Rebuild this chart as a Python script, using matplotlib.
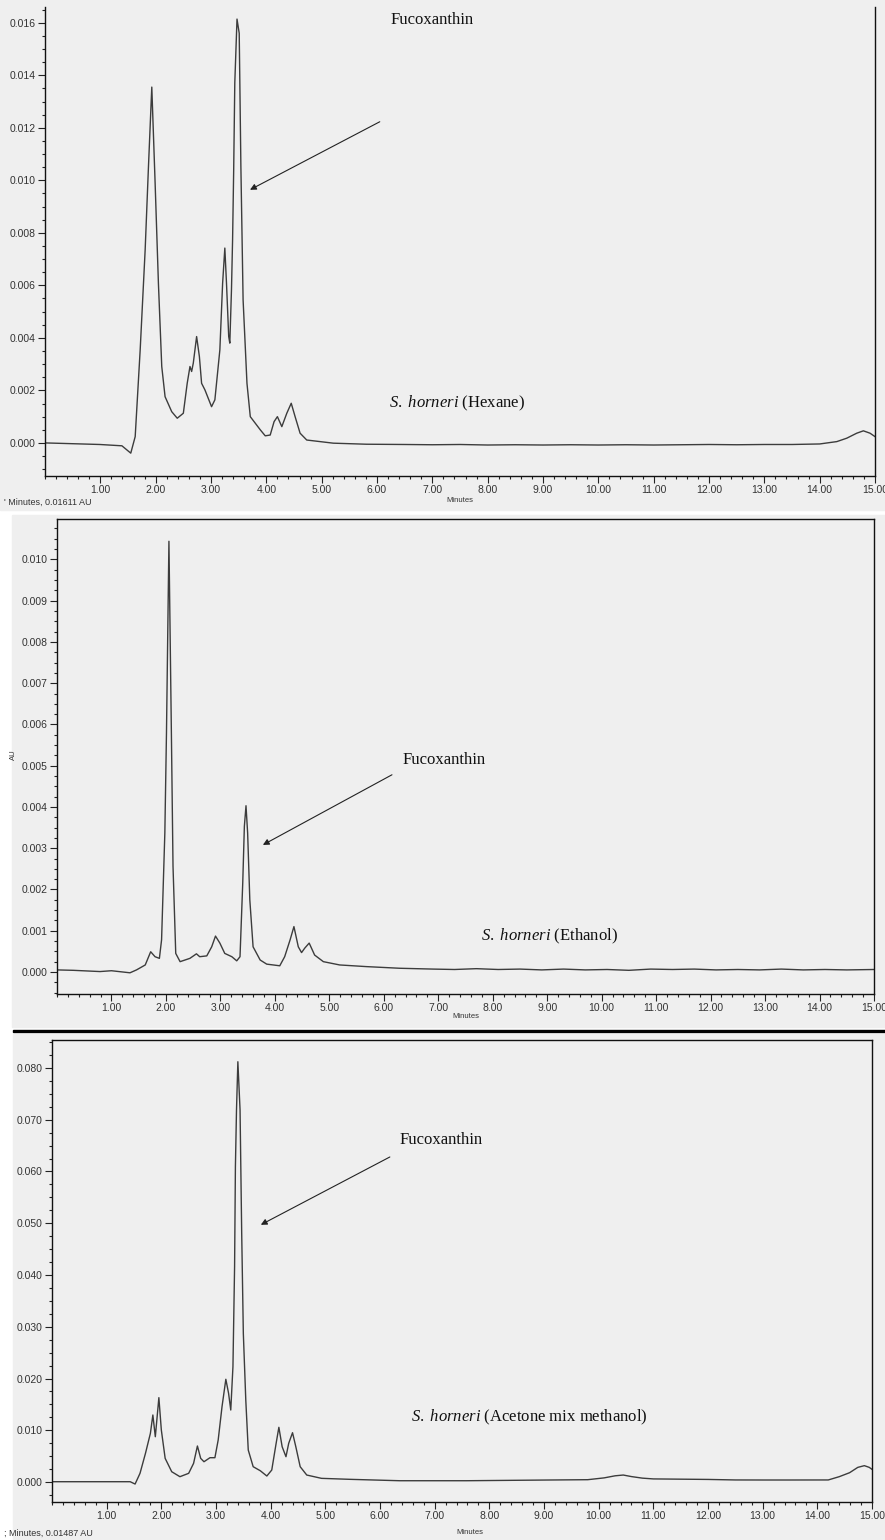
import numpy as np
import matplotlib
matplotlib.use("Agg")
import matplotlib.pyplot as plt
from matplotlib.patches import Rectangle
from matplotlib.ticker import FixedLocator, MultipleLocator, FormatStrFormatter

plt.rcParams["font.family"] = ["Liberation Sans", "DejaVu Sans"]
plt.rcParams["mathtext.fontset"] = "custom"
plt.rcParams["mathtext.rm"] = "Liberation Serif"
plt.rcParams["mathtext.it"] = "Liberation Serif:italic"

# ---- data (minutes, AU) ----
hexane_t = [0.00, 0.50, 0.99, 1.39, 1.55, 1.63, 1.72, 1.81, 1.87, 1.93, 1.99, 2.05, 2.11,
            2.17, 2.29, 2.39, 2.50, 2.57, 2.62, 2.65, 2.68, 2.74, 2.79, 2.83, 2.89, 3.01,
            3.07, 3.16, 3.21, 3.25, 3.28, 3.32, 3.34, 3.37, 3.39, 3.41, 3.43, 3.47, 3.51,
            3.54, 3.58, 3.65, 3.71, 3.80, 3.89, 3.98, 4.07, 4.14, 4.20, 4.28, 4.37, 4.45,
            4.52, 4.61, 4.73, 5.21, 5.81, 6.50, 7.00, 7.50, 8.00, 8.50, 9.00, 9.50, 10.00,
            10.50, 11.00, 11.50, 12.00, 12.50, 13.00, 13.50, 14.00, 14.31, 14.49, 14.67,
            14.79, 14.91, 15.00]
hexane_au = [0.00000, -0.00003, -0.00006, -0.00011, -0.00039, 0.00024, 0.00354, 0.00735,
             0.01053, 0.01355, 0.00990, 0.00606, 0.00291, 0.00176, 0.00119, 0.00094,
             0.00113, 0.00227, 0.00291, 0.00272, 0.00304, 0.00405, 0.00329, 0.00227,
             0.00202, 0.00138, 0.00164, 0.00354, 0.00608, 0.00742, 0.00608, 0.00405,
             0.00380, 0.00583, 0.00773, 0.01040, 0.01371, 0.01614, 0.01560, 0.01053,
             0.00545, 0.00227, 0.00100, 0.00075, 0.00050, 0.00027, 0.00030, 0.00081,
             0.00100, 0.00062, 0.00113, 0.00151, 0.00100, 0.00037, 0.00011, -0.00001,
             -0.00005, -0.00006, -0.00007, -0.00006, -0.00008, -0.00007, -0.00008,
             -0.00007, -0.00008, -0.00007, -0.00008, -0.00007, -0.00006, -0.00007,
             -0.00006, -0.00006, -0.00004, 0.00005, 0.00018, 0.00037, 0.00046, 0.00037,
             0.00024]

ethanol_t = [0.00, 0.30, 0.79, 1.00, 1.34, 1.46, 1.62, 1.72, 1.80, 1.88, 1.92, 1.98, 2.01,
             2.055, 2.10, 2.13, 2.18, 2.26, 2.44, 2.56, 2.62, 2.75, 2.84, 2.91, 2.99, 3.08,
             3.21, 3.30, 3.36, 3.41, 3.44, 3.47, 3.50, 3.54, 3.60, 3.73, 3.85, 4.09, 4.18,
             4.28, 4.35, 4.43, 4.49, 4.55, 4.63, 4.73, 4.89, 5.19, 5.68, 6.29, 6.90, 7.30,
             7.70, 8.10, 8.50, 8.90, 9.30, 9.70, 10.10, 10.50, 10.90, 11.30, 11.70, 12.10,
             12.50, 12.90, 13.30, 13.70, 14.10, 14.50, 15.00]
ethanol_au = [0.00005, 0.00004, 0.00001, 0.00003, -0.00002, 0.00005, 0.00017, 0.00049,
              0.00037, 0.00033, 0.00078, 0.00337, 0.00580, 0.01044, 0.00580, 0.00256,
              0.00045, 0.00025, 0.00033, 0.00044, 0.00037, 0.00039, 0.00061, 0.00087,
              0.00070, 0.00045, 0.00037, 0.00027, 0.00037, 0.00215, 0.00353, 0.00403,
              0.00337, 0.00175, 0.00061, 0.00029, 0.00019, 0.00015, 0.00037, 0.00078,
              0.00110, 0.00061, 0.00047, 0.00058, 0.00070, 0.00041, 0.00025, 0.00017,
              0.00013, 0.00009, 0.00007, 0.00006, 0.00008, 0.00006, 0.00007, 0.00005,
              0.00007, 0.00005, 0.00006, 0.00004, 0.00007, 0.00006, 0.00007, 0.00005,
              0.00006, 0.00005, 0.00007, 0.00005, 0.00006, 0.00005, 0.00006]

acetone_t = [0.00, 0.88, 1.43, 1.52, 1.61, 1.71, 1.80, 1.845, 1.89, 1.955, 2.00, 2.07,
             2.19, 2.34, 2.50, 2.59, 2.66, 2.72, 2.78, 2.89, 2.98, 3.04, 3.11, 3.18, 3.23,
             3.27, 3.31, 3.34, 3.355, 3.375, 3.40, 3.44, 3.47, 3.50, 3.545, 3.59, 3.68,
             3.81, 3.93, 4.02, 4.10, 4.15, 4.21, 4.28, 4.33, 4.40, 4.46, 4.54, 4.66, 4.93,
             5.45, 6.36, 7.58, 9.10, 9.80, 10.10, 10.30, 10.45, 10.60, 10.80, 11.00, 11.50,
             12.00, 12.50, 13.00, 13.50, 14.20, 14.40, 14.59, 14.74, 14.86, 14.95, 15.00]
acetone_au = [0.00006, 0.00006, 0.00006, -0.00039, 0.00168, 0.00555, 0.00941, 0.01295,
              0.00875, 0.01630, 0.01005, 0.00457, 0.00199, 0.00103, 0.00168, 0.00361,
              0.00696, 0.00457, 0.00392, 0.00470, 0.00470, 0.00812, 0.01455, 0.01985,
              0.01714, 0.01391, 0.02230, 0.04160, 0.06090, 0.07190, 0.08120, 0.07190,
              0.04810, 0.02870, 0.01580, 0.00618, 0.00296, 0.00218, 0.00116, 0.00232,
              0.00748, 0.01057, 0.00682, 0.00489, 0.00748, 0.00953, 0.00682, 0.00296,
              0.00135, 0.00071, 0.00052, 0.00025, 0.00025, 0.00039, 0.00045, 0.00080,
              0.00120, 0.00135, 0.00105, 0.00075, 0.00060, 0.00055, 0.00050, 0.00040,
              0.00039, 0.00039, 0.00040, 0.00103, 0.00180, 0.00283, 0.00316, 0.00283,
              0.00245]

x_ticks = list(range(1, 16))

W, H = 885, 1540
GRAY = "#efefef"
LINE = "#3c3c3c"

fig = plt.figure(figsize=(W / 100, H / 100), dpi=100)
fig.patch.set_facecolor("white")


def px_rect(x0, y0, x1, y1, **kw):
    r = Rectangle((x0 / W, 1 - y1 / H), (x1 - x0) / W, (y1 - y0) / H,
                  transform=fig.transFigure, zorder=-5, **kw)
    fig.patches.append(r)


def px_axes(left, top, right, bottom):
    return fig.add_axes([left / W, 1 - bottom / H, (right - left) / W, (bottom - top) / H])


def px_text(x, y, s, **kw):
    fig.text(x / W, 1 - y / H, s, **kw)


# panel backgrounds
px_rect(0, 0, 885, 510, color=GRAY)
px_rect(12, 515, 885, 1027, color=GRAY)
px_rect(13, 1030, 885, 1032, color="black")
px_rect(13, 1034, 885, 1540, color=GRAY)


def style_axis(ax, ylim, ymajor, yminor, top_spine=True):
    ax.set_facecolor(GRAY)
    ax.set_xlim(0, 15)
    ax.set_ylim(*ylim)
    ax.xaxis.set_major_locator(FixedLocator(x_ticks))
    ax.xaxis.set_major_formatter(FormatStrFormatter("%.2f"))
    ax.xaxis.set_minor_locator(MultipleLocator(0.2))
    ax.yaxis.set_major_locator(MultipleLocator(ymajor))
    ax.yaxis.set_major_formatter(FormatStrFormatter("%.3f"))
    ax.yaxis.set_minor_locator(MultipleLocator(yminor))
    ax.tick_params(which="major", direction="out", length=5, width=0.8,
                   colors="#222222", labelsize=7.5, pad=1.5, labelcolor="#333333")
    ax.tick_params(which="minor", direction="out", length=2.5, width=0.8, colors="#222222")
    for sp in ax.spines.values():
        sp.set_linewidth(1.0)
        sp.set_color("#111111")
    ax.spines["top"].set_visible(top_spine)


def add_labels(ax, txt_xy, tip_xy, tail_xy, sample_xy, solvent):
    ax.text(*txt_xy, "Fucoxanthin", family="Liberation Serif", fontsize=12,
            ha="center", va="center", color="#111111")
    ax.annotate("", xy=tip_xy, xytext=tail_xy,
                arrowprops=dict(arrowstyle="-|>", color="#222222", lw=0.8,
                                mutation_scale=9, shrinkA=0, shrinkB=0))
    ax.text(*sample_xy, r"$\mathit{S.\ horneri}$ (" + solvent + ")",
            family="Liberation Serif", fontsize=12, ha="left", va="center",
            color="#111111")


# ---- Panel 1: Hexane ----
ax1 = px_axes(45, 7, 875, 476)
ax1.plot(hexane_t, hexane_au, color=LINE, lw=1.0)
style_axis(ax1, (-0.00126, 0.0166), 0.002, 0.0005, top_spine=False)
add_labels(ax1, (6.99, 0.01611), (3.705, 0.00964), (6.05, 0.01223),
           (6.22, 0.00152), "Hexane")
px_text(460, 501, "Minutes", fontsize=5.5, ha="center", va="center", color="#333333")
px_text(4, 502, "' Minutes, 0.01611 AU", fontsize=6.5, ha="left", va="center", color="#333333")

# ---- Panel 2: Ethanol ----
ax2 = px_axes(57, 519, 874, 994)
ax2.plot(ethanol_t, ethanol_au, color=LINE, lw=1.0)
style_axis(ax2, (-0.000534, 0.01098), 0.001, 0.00025)
add_labels(ax2, (7.11, 0.00515), (3.78, 0.00308), (6.15, 0.00478),
           (7.78, 0.00087), "Ethanol")
px_text(466, 1017, "Minutes", fontsize=5.5, ha="center", va="center", color="#333333")
px_text(13, 755, "AU", fontsize=5.5, ha="center", va="center", rotation=90, color="#333333")

# ---- Panel 3: Acetone mix methanol ----
ax3 = px_axes(52, 1040, 872, 1502)
ax3.plot(acetone_t, acetone_au, color=LINE, lw=1.0)
style_axis(ax3, (-0.00386, 0.0854), 0.010, 0.0025)
add_labels(ax3, (7.12, 0.0661), (3.82, 0.0497), (6.18, 0.0628),
           (6.57, 0.0124), "Acetone mix methanol")
px_text(470, 1532, "Minutes", fontsize=5.5, ha="center", va="center", color="#333333")
px_text(4, 1533, "; Minutes, 0.01487 AU", fontsize=6.5, ha="left", va="center", color="#333333")

fig.savefig("out.png", dpi=100)
